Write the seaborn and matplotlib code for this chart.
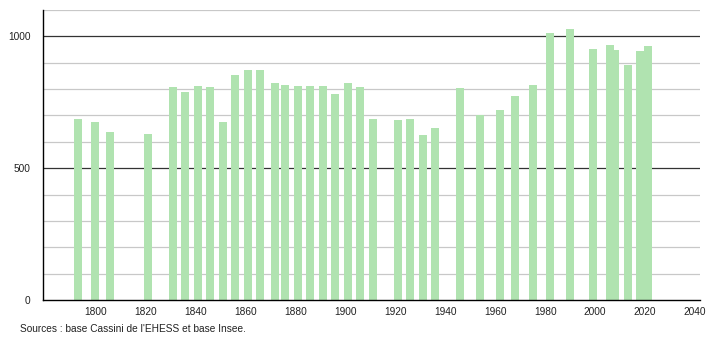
import matplotlib
matplotlib.use("Agg")
import matplotlib.pyplot as plt
import seaborn as sns
import pandas as pd
from matplotlib.ticker import MultipleLocator

years = [1793, 1800, 1806, 1821, 1831, 1836, 1841, 1846, 1851, 1856, 1861, 1866,
         1872, 1876, 1881, 1886, 1891, 1896, 1901, 1906, 1911, 1921, 1926, 1931,
         1936, 1946, 1954, 1962, 1968, 1975, 1982, 1990, 1999, 2006, 2008, 2013,
         2018, 2021]
population = [688, 677, 639, 631, 807, 790, 810, 807, 677, 855, 874, 871,
              825, 814, 810, 810, 810, 783, 825, 807, 688, 681, 688, 627,
              654, 806, 703, 722, 772, 817, 1011, 1027, 951, 966, 947, 890,
              943, 962]
x_ticks = [1800, 1820, 1840, 1860, 1880, 1900, 1920, 1940, 1960, 1980, 2000, 2020, 2040]
y_ticks = [0, 500, 1000]
source_text = "Sources : base Cassini de l'EHESS et base Insee."

df = pd.DataFrame({"year": years, "pop": population})

sns.set_style("white")
plt.rcParams["font.family"] = ["Liberation Sans", "DejaVu Sans"]

fig = plt.figure(figsize=(7.1, 3.4), dpi=100)
ax = fig.add_axes([43 / 710, 40 / 340, (700 - 43) / 710, (300 - 10) / 340])

sns.barplot(data=df, x="year", y="pop", native_scale=True, width=1.6,
            color="#b0e3b0", saturation=1, ax=ax, orient="v", zorder=3,
            linewidth=0, edgecolor="none")

ax.set_xlim(1779, 2042)
ax.set_ylim(0, 1100)
ax.set_xticks(x_ticks)
ax.set_xticklabels([str(t) for t in x_ticks])
ax.set_yticks(y_ticks)
ax.set_yticklabels([str(t) for t in y_ticks])
ax.yaxis.set_minor_locator(MultipleLocator(100))

ax.grid(False)
for v in range(100, 1101, 100):
    if v % 500 == 0:
        ax.axhline(v, color="#333333", lw=0.9, zorder=1)
    else:
        ax.axhline(v, color="#c8c8c8", lw=0.9, zorder=1)
ax.set_axisbelow(True)

for s in ["top", "right"]:
    ax.spines[s].set_visible(False)
for s in ["left", "bottom"]:
    ax.spines[s].set_color("#000000")
    ax.spines[s].set_linewidth(1.0)
    ax.spines[s].set_zorder(5)

ax.tick_params(axis="x", length=0, labelsize=7.3, pad=5, colors="#222222")
ax.tick_params(axis="y", which="major", length=5, width=0.9, labelsize=7.3, pad=4,
               colors="#222222", direction="out")
ax.tick_params(axis="y", which="minor", length=2.5, width=0.9, color="#222222")
ax.set_xlabel("")
ax.set_ylabel("")

fig.text(20 / 710, 1 - 329 / 340, source_text, fontsize=7.3, color="#222222",
         va="center", ha="left")

fig.savefig("out.png", dpi=100)
